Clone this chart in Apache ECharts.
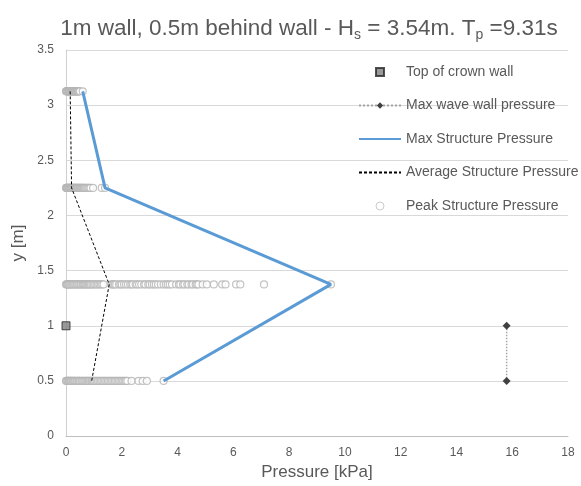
<!DOCTYPE html>
<html>
<head>
<meta charset="utf-8">
<script src="https://cdn.jsdelivr.net/npm/echarts@6/dist/echarts.min.js"></script>
<style>html,body{margin:0;padding:0;background:#fff}#c{width:581px;height:486px}</style>
</head>
<body>
<div id="c"></div>
<script>
// Data
const rowLevels = [3.125, 2.25, 1.375, 0.5];
const peakRow3125 = [0, 0.01, 0.02, 0.04, 0.05, 0.07, 0.08, 0.1, 0.11, 0.12, 0.14, 0.15, 0.17, 0.18, 0.2, 0.21, 0.22, 0.24, 0.25, 0.27, 0.28, 0.3, 0.32, 0.33, 0.35, 0.36, 0.38, 0.4, 0.42, 0.43, 0.45, 0.47, 0.5, 0.6];
const peakRow225 = [0, 0.02, 0.03, 0.05, 0.06, 0.08, 0.1, 0.12, 0.13, 0.15, 0.17, 0.19, 0.2, 0.22, 0.24, 0.26, 0.28, 0.3, 0.32, 0.34, 0.36, 0.38, 0.4, 0.43, 0.45, 0.48, 0.5, 0.53, 0.55, 0.58, 0.6, 0.63, 0.65, 0.68, 0.72, 0.76, 0.8, 0.84, 0.88, 0.97, 1.28, 1.4];
const peakRow1375 = [0, 0.03, 0.05, 0.08, 0.1, 0.14, 0.18, 0.22, 0.25, 0.29, 0.33, 0.37, 0.4, 0.44, 0.48, 0.52, 0.55, 0.6, 0.63, 0.67, 0.7, 0.74, 0.78, 0.82, 0.86, 0.9, 0.95, 1.0, 1.05, 1.1, 1.15, 1.2, 1.25, 1.3, 1.35, 1.62, 1.66, 1.7, 1.75, 1.8, 1.9, 1.95, 2.0, 2.08, 2.15, 2.22, 2.3, 2.35, 2.4, 2.5, 2.55, 2.62, 2.7, 2.8, 2.85, 2.95, 3.0, 3.08, 3.15, 3.22, 3.3, 3.4, 3.5, 3.58, 3.65, 3.72, 3.8, 3.95, 4.05, 4.1, 4.2, 4.25, 4.35, 4.4, 4.5, 4.55, 4.65, 4.7, 4.75, 4.9, 5.05, 5.3, 5.6, 5.72, 6.1, 6.25, 7.1, 9.5];
const peakRow05 = [0, 0.02, 0.05, 0.08, 0.1, 0.13, 0.15, 0.18, 0.2, 0.24, 0.27, 0.3, 0.33, 0.37, 0.4, 0.44, 0.47, 0.5, 0.55, 0.58, 0.62, 0.66, 0.7, 0.74, 0.78, 0.82, 0.85, 0.9, 0.93, 0.97, 1.0, 1.05, 1.1, 1.15, 1.2, 1.25, 1.3, 1.35, 1.4, 1.45, 1.5, 1.55, 1.6, 1.65, 1.7, 1.75, 1.8, 1.85, 1.9, 1.95, 2.0, 2.05, 2.1, 2.15, 2.2, 2.35, 2.6, 2.75, 2.9, 3.5];
const maxStructure = [0.6, 1.4, 9.5, 3.5];
const avgStructure = [0.15, 0.2, 1.55, 0.92];
const crownWallX = [0];
const crownWallY = [1];
const waveWallX = [15.8, 15.8];
const waveWallY = [1, 0.5];
const legendNames = ['Top of crown wall', 'Max wave wall pressure', 'Max Structure Pressure', 'Average Structure Pressure', 'Peak Structure Pressure'];

const FONT = "'Liberation Sans Narrow','Arial Narrow','Liberation Sans',sans-serif";
const TXT = '#595959';

const peakRows = [peakRow3125, peakRow225, peakRow1375, peakRow05];
const peakData = [];
peakRows.forEach((row, i) => row.forEach(x => peakData.push([x, rowLevels[i]])));

const chart = echarts.init(document.getElementById('c'), null, {renderer: 'canvas'});
chart.setOption({
  animation: false,
  backgroundColor: '#fff',
  title: {
    text: '1m wall, 0.5m behind wall - H{s|s} = 3.54m. T{s|p} =9.31s',
    left: 304, textAlign: 'center', top: 11,
    textStyle: {
      fontFamily: FONT, fontSize: 22.5, fontWeight: 'normal', color: TXT,
      rich: { s: { fontFamily: FONT, fontSize: 14, color: TXT, padding: [12, 0, 0, 0] } }
    }
  },
  legend: {
    orient: 'vertical', left: 358, top: 65, padding: 0, itemGap: 19.5, itemWidth: 42, itemHeight: 8,
    textStyle: { fontFamily: FONT, fontSize: 14, color: TXT },
    data: [
      { name: legendNames[0], icon: 'path://M0,0H10V10H0Z' },
      { name: legendNames[1] },
      { name: legendNames[2], itemStyle: { opacity: 0 } },
      { name: legendNames[3], itemStyle: { opacity: 0 } },
      { name: legendNames[4], icon: 'circle', itemStyle: { borderWidth: 1, borderColor: '#bfbfbf' } }
    ]
  },
  grid: { left: 66, right: 13, top: 50, bottom: 48, containLabel: false },
  xAxis: {
    type: 'value', min: 0, max: 18, interval: 2,
    name: 'Pressure [kPa]', nameLocation: 'middle', nameGap: 24,
    nameTextStyle: { fontFamily: FONT, fontSize: 17, color: TXT },
    axisLine: { show: true, lineStyle: { color: '#bfbfbf' } },
    axisTick: { show: false },
    splitLine: { show: false },
    axisLabel: { fontFamily: FONT, fontSize: 12, color: TXT, margin: 11 }
  },
  yAxis: {
    type: 'value', min: 0, max: 3.5, interval: 0.5,
    name: 'y [m]', nameLocation: 'middle', nameGap: 37, nameRotate: 90,
    nameTextStyle: { fontFamily: FONT, fontSize: 17, color: TXT },
    axisLine: { show: true, lineStyle: { color: '#d0d0d0' } },
    axisTick: { show: false },
    splitLine: { show: true, lineStyle: { color: '#d9d9d9' } },
    axisLabel: { fontFamily: FONT, fontSize: 12, color: TXT, margin: 12 }
  },
  series: [
    {
      name: legendNames[4], type: 'scatter', symbol: 'circle', symbolSize: 7, z: 2,
      itemStyle: { color: '#ffffff', borderColor: '#b4b4b4', borderWidth: 1.2 },
      data: peakData
    },
    {
      name: legendNames[2], type: 'line', symbol: 'none', z: 3,
      lineStyle: { color: '#5b9bd5', width: 3 },
      itemStyle: { color: '#5b9bd5' },
      data: maxStructure.map((x, i) => [x, rowLevels[i]])
    },
    {
      name: legendNames[3], type: 'line', symbol: 'none', z: 4,
      lineStyle: { color: '#000000', width: 1, type: [3, 2] },
      itemStyle: { color: '#000000' },
      data: avgStructure.map((x, i) => [x, rowLevels[i]])
    },
    {
      name: legendNames[1], type: 'line', symbol: 'diamond', symbolSize: 8, z: 4,
      lineStyle: { color: '#a6a6a6', width: 1.5, type: 'dotted' },
      itemStyle: { color: '#404040' },
      data: waveWallX.map((x, i) => [x, waveWallY[i]])
    },
    {
      name: legendNames[0], type: 'scatter', symbol: 'rect', symbolSize: 8, z: 5,
      itemStyle: { color: '#808080', borderColor: '#262626', borderWidth: 1 },
      data: crownWallX.map((x, i) => [x, crownWallY[i]])
    }
  ]
});
</script>
</body>
</html>
